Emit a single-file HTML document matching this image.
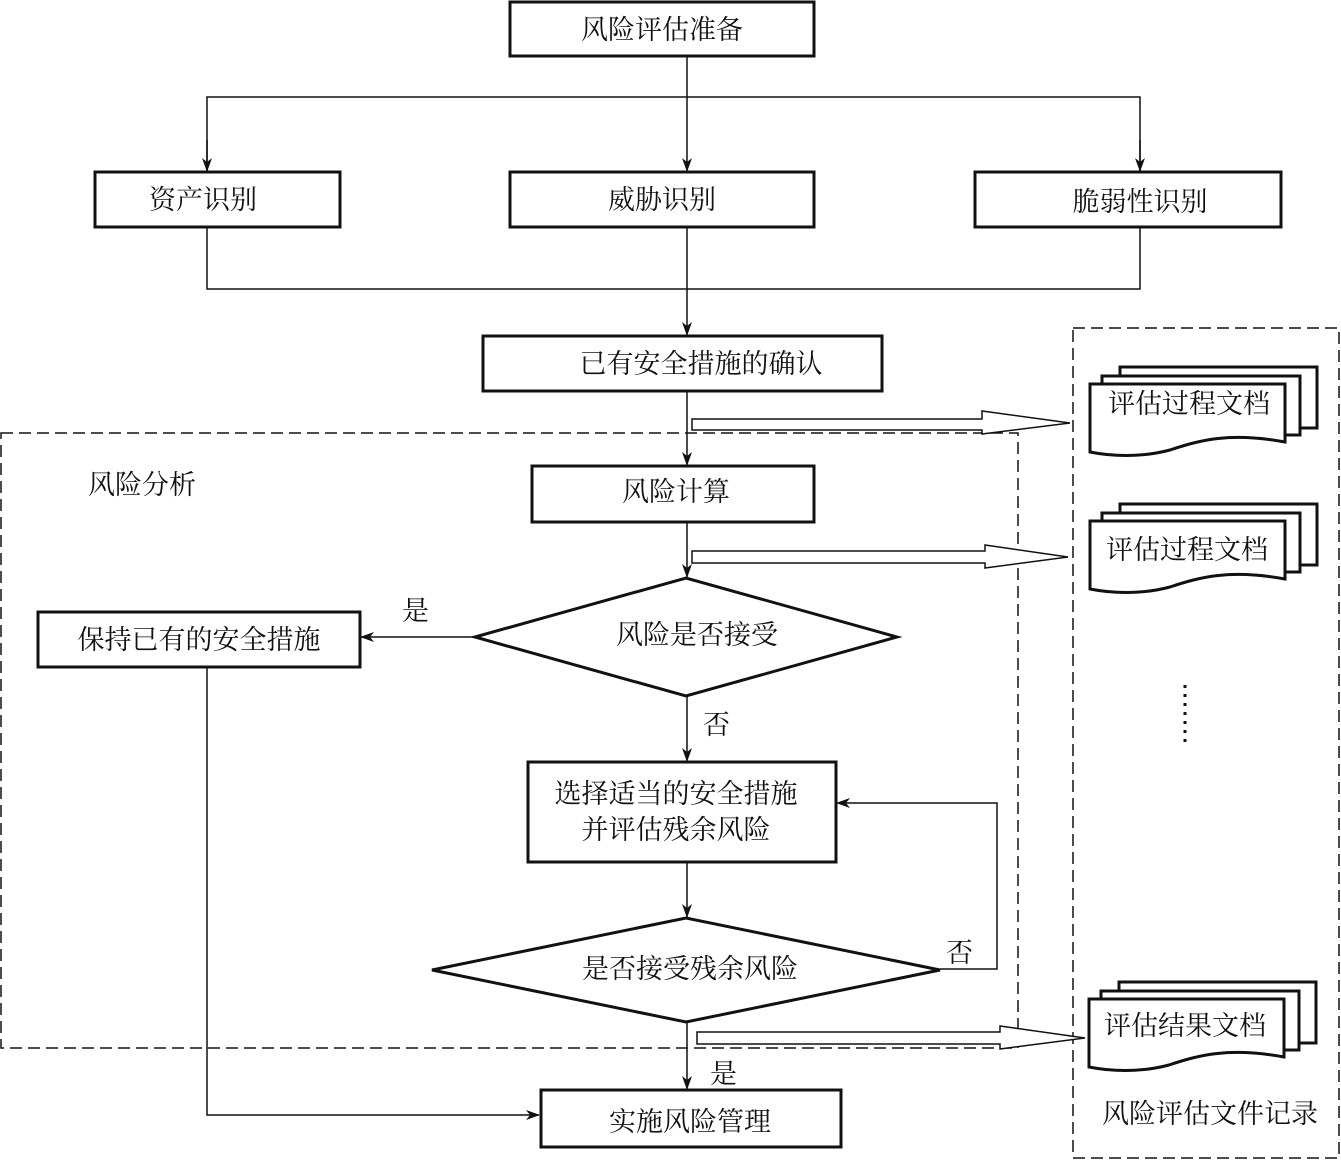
<!DOCTYPE html>
<html><head><meta charset="utf-8"><style>
body{margin:0;background:#fff}
svg text{font-family:"Liberation Serif","Noto Serif CJK SC","Noto Sans CJK SC",serif;font-size:27px;fill:#111}
</style></head><body>
<svg width="1341" height="1160" viewBox="0 0 1341 1160" xmlns="http://www.w3.org/2000/svg">
<defs>
<marker id="a" markerWidth="14" markerHeight="10" refX="13" refY="5" orient="auto" markerUnits="userSpaceOnUse">
<path d="M0,0 L14,5 L0,10 L4,5 Z" fill="#111"/></marker>
</defs>
<g stroke="#111" fill="none" stroke-width="1.5">
<!-- dashed regions -->
<rect x="1" y="433" width="1017" height="615" stroke-dasharray="12,6"/>
<rect x="1073" y="328" width="266" height="830" stroke-dasharray="12,6"/>
<!-- top connectors -->
<line x1="687" y1="56" x2="687" y2="171" marker-end="url(#a)"/>
<polyline points="207,171 207,97 1140,97 1140,171" />
<line x1="207" y1="140" x2="207" y2="171" marker-end="url(#a)"/>
<line x1="1140" y1="140" x2="1140" y2="171" marker-end="url(#a)"/>
<polyline points="207,227 207,289 1140,289 1140,227"/>
<line x1="687" y1="227" x2="687" y2="335" marker-end="url(#a)"/>
<line x1="687" y1="391" x2="687" y2="465" marker-end="url(#a)"/>
<line x1="687" y1="522" x2="687" y2="577" marker-end="url(#a)"/>
<line x1="475" y1="637" x2="361" y2="637" marker-end="url(#a)"/>
<polyline points="207,667 207,1115 539,1115" marker-end="url(#a)"/>
<line x1="687" y1="696" x2="687" y2="761" marker-end="url(#a)"/>
<polyline points="940,969 997,969 997,803 837,803" marker-end="url(#a)"/>
<line x1="687" y1="862" x2="687" y2="917" marker-end="url(#a)"/>
<line x1="687" y1="1022" x2="687" y2="1089" marker-end="url(#a)"/>
<!-- hollow arrows -->
<path d="M692,419 L982,419 L982,411 L1070,423 L982,434 L982,430 L692,430 Z" fill="#fff"/>
<path d="M692,551 L985,551 L985,545 L1068,557 L985,568 L985,563 L692,563 Z" fill="#fff"/>
<path d="M697,1032 L1000,1032 L1000,1026 L1085,1038 L1000,1049 L1000,1044 L697,1044 Z" fill="#fff"/>
</g>
<g stroke="#111" fill="#fff" stroke-width="3">
<rect x="510" y="2" width="304" height="54"/>
<rect x="95" y="172" width="245" height="55"/>
<rect x="510" y="172" width="304" height="55"/>
<rect x="975" y="172" width="306" height="55"/>
<rect x="483" y="336" width="399" height="55"/>
<rect x="532" y="466" width="282" height="56"/>
<rect x="38" y="612" width="322" height="55"/>
<polygon points="475,637 686,578 897,637 686,696"/>
<rect x="528" y="762" width="308" height="100"/>
<polygon points="432,970 686,918 940,970 686,1022"/>
<rect x="541" y="1090" width="300" height="57"/>
<!-- docs -->
<g id="d1">
<path d="M1120,367 H1317 V428 H1120 Z"/>
<path d="M1102,376 H1300 V435 H1102 Z"/>
<path d="M1090,384 H1285 V442 C1230,432 1200,440 1170,450 C1140,458 1110,456 1090,452 Z"/>
</g>
<g transform="translate(0,137)">
<path d="M1120,367 H1317 V428 H1120 Z"/>
<path d="M1102,376 H1300 V435 H1102 Z"/>
<path d="M1090,384 H1285 V442 C1230,432 1200,440 1170,450 C1140,458 1110,456 1090,452 Z"/>
</g>
<g transform="translate(-1,615)">
<path d="M1120,367 H1317 V428 H1120 Z"/>
<path d="M1102,376 H1300 V435 H1102 Z"/>
<path d="M1090,384 H1285 V442 C1230,432 1200,440 1170,450 C1140,458 1110,456 1090,452 Z"/>
</g>
</g>
<line x1="1185" y1="685" x2="1185" y2="745" stroke="#111" stroke-width="3" stroke-dasharray="3,6"/>
<g text-anchor="middle">
<text x="662" y="39">风险评估准备</text>
<text x="203" y="209">资产识别</text>
<text x="662" y="209">威胁识别</text>
<text x="1140" y="211">脆弱性识别</text>
<text x="701" y="373">已有安全措施的确认</text>
<text x="676" y="501">风险计算</text>
<text x="199" y="649">保持已有的安全措施</text>
<text x="697" y="644">风险是否接受</text>
<text x="676" y="803">选择适当的安全措施</text>
<text x="676" y="839">并评估残余风险</text>
<text x="690" y="978">是否接受残余风险</text>
<text x="690" y="1131">实施风险管理</text>
<text x="1189" y="413">评估过程文档</text>
<text x="1187" y="559">评估过程文档</text>
<text x="1185" y="1035">评估结果文档</text>
<text x="1210" y="1123">风险评估文件记录</text>
</g>
<text x="88" y="494">风险分析</text>
<text x="402" y="620">是</text>
<text x="703" y="734">否</text>
<text x="946" y="962">否</text>
<text x="710" y="1083">是</text>
</svg>
</body></html>
